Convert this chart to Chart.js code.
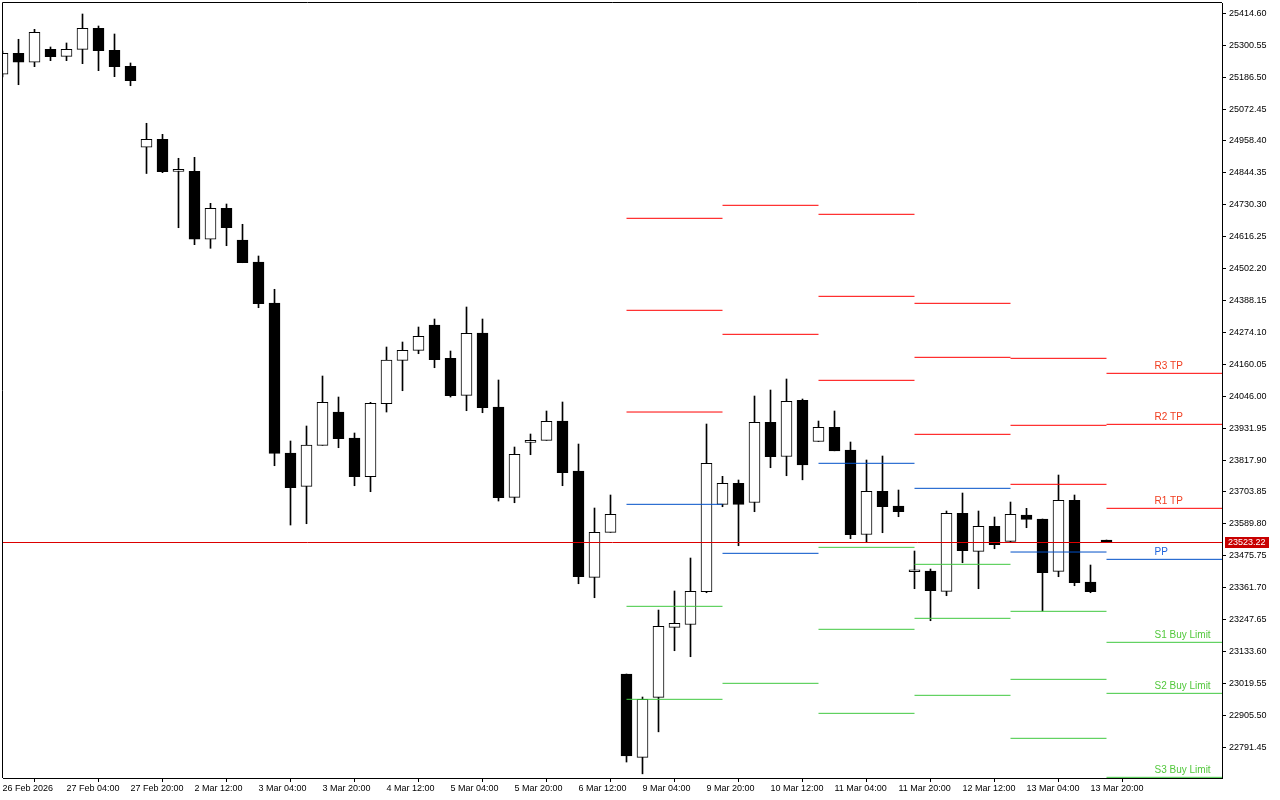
<!DOCTYPE html>
<html>
<head>
<meta charset="utf-8">
<script src="https://cdn.jsdelivr.net/npm/chart.js@4.4.1/dist/chart.umd.min.js"></script>
<style>
  html, body { margin: 0; padding: 0; background: #fff; }
  #chart { width: 1280px; height: 800px; }
</style>
</head>
<body>
<div id="chart"><canvas></canvas></div>
<script>
const canvas = document.querySelector("#chart canvas");

// H4 candles, oldest first (bar 0 = 26 Feb 12:00)
const opens = [
  25196.6, 25271.6, 25239.5, 25285.9, 25260.9, 25285.9, 25361.0, 25282.4, 25225.2, 24935.7,
  24964.3, 24849.9, 24849.9, 24606.9, 24717.7, 24604.4, 24525.7, 24379.2, 23843.1, 23724.1,
  23870.6, 23989.6, 23896.7, 23758.4, 24019.3, 24174.4, 24210.1, 24300.6, 24181.5, 24049.3,
  24272.0, 24007.5, 23684.7, 23881.3, 23888.5, 23957.4, 23778.7, 23398.8, 23559.7, 23053.2,
  22755.5, 22969.9, 23220.1, 23230.1, 23347.3, 23659.7, 23734.8, 23666.2, 23952.8, 23830.6,
  24031.8, 23884.2, 23934.9, 23853.8, 23551.8, 23706.5, 23653.7, 23418.8, 23421.3, 23348.8,
  23627.6, 23491.7, 23581.1, 23527.5, 23621.5, 23607.2, 23420.3, 23674.0, 23382.0, 23532.1,
];
const highs = [
  25279.9, 25321.7, 25357.4, 25294.2, 25308.5, 25412.1, 25369.2, 25340.6, 25237.0, 25021.5,
  24982.1, 24896.4, 24899.9, 24735.5, 24733.0, 24660.5, 24547.2, 24428.2, 23886.0, 23939.6,
  24118.3, 24043.2, 23914.6, 24024.3, 24221.9, 24239.8, 24293.4, 24322.0, 24207.6, 24364.9,
  24322.0, 24104.0, 23864.5, 23911.0, 23993.2, 24025.4, 23875.2, 23646.5, 23693.0, 23053.2,
  22971.0, 23281.9, 23349.9, 23467.8, 23946.7, 23759.8, 23746.6, 24046.8, 24068.2, 24107.6,
  24036.1, 23957.4, 23993.2, 23882.4, 23818.1, 23832.4, 23710.8, 23492.8, 23428.5, 23635.8,
  23700.1, 23635.8, 23614.3, 23667.9, 23645.4, 23607.2, 23764.4, 23693.0, 23442.8, 23532.1,
];
const lows = [
  25186.9, 25159.4, 25223.8, 25245.2, 25245.2, 25234.5, 25209.5, 25188.0, 25155.8, 24842.0,
  24844.9, 24648.3, 24587.6, 24574.7, 24584.0, 24523.2, 24362.4, 23797.7, 23585.7, 23590.4,
  23870.6, 23862.0, 23726.2, 23704.8, 23989.6, 24065.7, 24198.0, 24147.9, 24043.2, 23994.3,
  23987.1, 23671.5, 23665.4, 23837.0, 23888.5, 23726.2, 23375.9, 23325.9, 23559.7, 22738.7,
  22696.5, 22846.6, 23136.5, 23115.0, 23343.8, 23651.1, 23511.8, 23633.3, 23790.5, 23761.9,
  23747.3, 23884.2, 23850.9, 23536.8, 23526.1, 23558.2, 23615.4, 23358.1, 23243.7, 23333.1,
  23451.0, 23358.1, 23501.0, 23523.9, 23576.1, 23278.4, 23401.0, 23368.8, 23343.8, 23523.2,
];
const closes = [
  25271.6, 25239.5, 25346.7, 25259.5, 25285.9, 25361.0, 25280.9, 25223.8, 25173.7, 24964.3,
  24848.5, 24849.9, 24606.9, 24717.7, 24648.3, 24523.2, 24376.7, 23842.0, 23719.1, 23871.7,
  24024.3, 23894.2, 23758.4, 24020.7, 24175.5, 24210.1, 24260.2, 24176.5, 24047.9, 24270.9,
  24005.0, 23683.3, 23838.4, 23888.5, 23956.4, 23772.7, 23401.0, 23559.7, 23624.0, 22760.1,
  22963.1, 23224.0, 23234.4, 23348.8, 23806.3, 23734.8, 23659.7, 23952.8, 23829.9, 24028.2,
  23800.9, 23934.9, 23850.9, 23551.1, 23706.5, 23651.1, 23633.3, 23418.8, 23350.9, 23627.6,
  23493.9, 23581.1, 23515.3, 23624.0, 23606.1, 23415.3, 23674.0, 23379.5, 23347.3, 23523.22,
];

// time axis labels, one every 4 bars
const tickLabels = [
  "26 Feb 2026", "27 Feb 04:00", "27 Feb 20:00", "2 Mar 12:00", "3 Mar 04:00", "3 Mar 20:00",
  "4 Mar 12:00", "5 Mar 04:00", "5 Mar 20:00", "6 Mar 12:00", "9 Mar 04:00", "9 Mar 20:00",
  "10 Mar 12:00", "11 Mar 04:00", "11 Mar 20:00", "12 Mar 12:00", "13 Mar 04:00", "13 Mar 20:00",
];
const tickEvery = 4;

const priceTicks = [
  "25414.60", "25300.55", "25186.50", "25072.45", "24958.40", "24844.35", "24730.30", "24616.25",
  "24502.20", "24388.15", "24274.10", "24160.05", "24046.00", "23931.95", "23817.90", "23703.85",
  "23589.80", "23475.75", "23361.70", "23247.65", "23133.60", "23019.55", "22905.50", "22791.45",
];

// daily pivot levels, first bar of each day (9..14 Mar)
const pivotStart = [39, 45, 51, 57, 63, 69];
const barsPerDay = 6;
const r3 = [24681.9, null, 24696.2, 24378.1, 24181.5, 24127.9];
const r2 = [24353.1, 24728.4, 24403.1, 24185.1, 23942.1, 23945.6];
const r1 = [23989.6, 24267.3, 24102.9, 23909.9, 23731.2, 23645.4];
const pp = [23659.7, 23484.6, 23806.3, 23716.9, 23489.2, 23463.1];
const s1 = [23295.2, 23020.0, 23506.0, 23445.3, 23277.3, 23166.5];
const s2 = [22962.8, null, 23213.0, 23252.3, 23034.2, 22984.2];
const s3 = [null, null, 22912.7, 22977.1, 22823.4, 22684.0];

const RED = "#ff0000", BLUE = "#0050c8", GREEN = "#40c840";
const levels = [
  { name: "R3 TP", values: r3, color: RED, text: "#f03c1e" },
  { name: "R2 TP", values: r2, color: RED, text: "#f03c1e" },
  { name: "R1 TP", values: r1, color: RED, text: "#f03c1e" },
  { name: "PP", values: pp, color: BLUE, text: "#1e64dc" },
  { name: "S1 Buy Limit", values: s1, color: GREEN, text: "#52c83c" },
  { name: "S2 Buy Limit", values: s2, color: GREEN, text: "#52c83c" },
  { name: "S3 Buy Limit", values: s3, color: GREEN, text: "#52c83c" },
];
const labelBar = 72;
const lastPrice = closes[closes.length - 1];

// one line per level, broken between days
function segments(values) {
  const pts = [];
  values.forEach((v, d) => {
    if (v == null) return;
    const start = pivotStart[d];
    const end = d === values.length - 1 ? 90 : start + barsPerDay;
    pts.push({ x: start, y: v }, { x: end, y: v }, { x: end, y: null });
  });
  return pts;
}

const bars = opens.map((o, i) => i);
const isBull = (i) => closes[i] >= opens[i];

const overlay = {
  id: "overlay",
  afterDatasetsDraw(chart) {
    const { ctx, chartArea, scales } = chart;
    ctx.save();
    ctx.strokeStyle = "#000";
    ctx.lineWidth = 1;
    ctx.beginPath();
    ctx.moveTo(chartArea.left - 0.5, chartArea.bottom);
    ctx.lineTo(chartArea.left - 0.5, chartArea.top - 0.5);
    ctx.lineTo(chartArea.right, chartArea.top - 0.5);
    ctx.stroke();

    ctx.font = "10px 'Liberation Sans'";
    ctx.textAlign = "left";
    ctx.textBaseline = "alphabetic";
    const last = pivotStart.length - 1;
    levels.forEach((lv) => {
      const v = lv.values[last];
      if (v == null) return;
      ctx.fillStyle = lv.text;
      ctx.fillText(lv.name, scales.x.getPixelForValue(labelBar), Math.round(scales.y.getPixelForValue(v)) - 4);
    });
    ctx.restore();
  },
  afterDraw(chart) {
    const { ctx, chartArea, scales } = chart;
    const y = Math.round(scales.y.getPixelForValue(lastPrice));
    ctx.save();
    ctx.fillStyle = "#c80000";
    ctx.fillRect(chartArea.right + 3, y - 6, 44, 11);
    ctx.fillStyle = "#fff";
    ctx.font = "9px 'Liberation Sans'";
    ctx.textAlign = "left";
    ctx.textBaseline = "middle";
    ctx.fillText(lastPrice.toFixed(2), chartArea.right + 6, y);
    ctx.restore();
  },
};

const datasets = [
  {
    type: "bar",
    label: "wicks",
    data: bars.map((i) => ({ x: i, y: [lows[i], highs[i]] })),
    backgroundColor: "#000",
    barThickness: 1,
    grouped: false,
    clip: 0,
    order: 4,
  },
  {
    type: "bar",
    label: "bodies",
    data: bars.map((i) => ({ x: i, y: [opens[i], closes[i]] })),
    backgroundColor: bars.map((i) => (isBull(i) ? "#fff" : "#000")),
    borderColor: "#000",
    borderWidth: 1,
    borderSkipped: false,
    barThickness: 11,
    minBarLength: 2,
    grouped: false,
    clip: 0,
    order: 3,
  },
  ...levels.map((lv) => ({
    type: "line",
    label: lv.name,
    data: segments(lv.values),
    borderColor: lv.color,
    borderWidth: 1,
    pointRadius: 0,
    spanGaps: false,
    clip: 0,
    order: 2,
  })),
  {
    type: "line",
    label: "price",
    data: [{ x: -5, y: lastPrice }, { x: 90, y: lastPrice }],
    borderColor: "#dc0000",
    borderWidth: 1,
    pointRadius: 0,
    clip: 0,
    order: 1,
  },
];

new Chart(canvas, {
  type: "bar",
  data: { datasets },
  options: {
    responsive: true,
    maintainAspectRatio: false,
    animation: false,
    layout: { padding: { left: 3, top: 3, right: 0, bottom: 0 } },
    plugins: { legend: { display: false }, tooltip: { enabled: false } },
    scales: {
      x: {
        type: "linear",
        offset: false,
        min: 0.03125,
        max: 76.21875,
        grid: { drawOnChartArea: false, drawTicks: true, tickLength: 4, color: "#000" },
        border: { display: true, color: "#000", width: 1 },
        afterBuildTicks: (scale) => {
          scale.ticks = tickLabels.map((_, k) => ({ value: k * tickEvery }));
        },
        afterFit: (scale) => {
          scale.height = 22;
          scale.paddingLeft = 0;
          scale.paddingRight = 0;
        },
        ticks: {
          autoSkip: false,
          maxRotation: 0,
          minRotation: 0,
          align: "start",
          padding: 1,
          color: "#000",
          font: { family: "'Liberation Sans'", size: 9 },
          callback: (v, idx) => tickLabels[idx],
        },
      },
      y: {
        type: "linear",
        position: "right",
        min: 22681.6,
        max: 25451.4,
        grid: { drawOnChartArea: false, drawTicks: true, tickLength: 4, color: "#000" },
        border: { display: true, color: "#000", width: 1 },
        afterBuildTicks: (scale) => {
          scale.ticks = priceTicks.map((t) => ({ value: parseFloat(t) }));
        },
        afterFit: (scale) => {
          scale.width = 58;
          scale.paddingTop = 0;
          scale.paddingBottom = 0;
        },
        ticks: {
          padding: 3,
          color: "#000",
          font: { family: "'Liberation Sans'", size: 9 },
          callback: (v, idx) => priceTicks[idx],
        },
      },
    },
  },
  plugins: [overlay],
});
</script>
</body>
</html>
